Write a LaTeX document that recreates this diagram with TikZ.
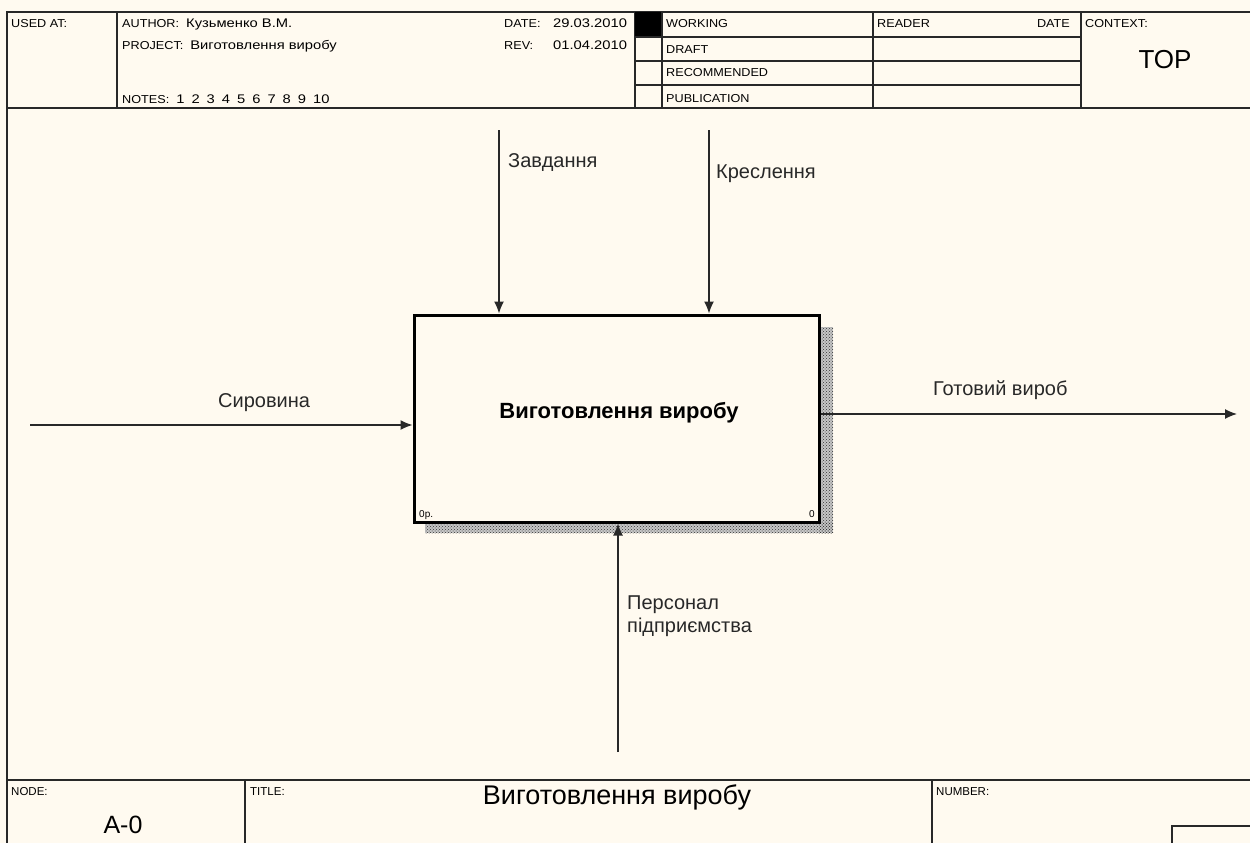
\documentclass[tikz,border=0pt]{standalone}
\usepackage{fontspec}
\setmainfont{Liberation Sans}
\newfontfamily\hdrfont{Liberation Sans}[FakeStretch=1.1]
\newfontfamily\valfont{Liberation Sans}[FakeStretch=1.18]
\newcommand\hdrval[1]{{\valfont\fontsize{12.5}{14}\selectfont #1}}
\usetikzlibrary{arrows.meta,patterns}
\definecolor{paper}{RGB}{255,250,240}
\definecolor{ink}{RGB}{40,40,40}
\tikzset{
  frameline/.style={draw=ink, line width=1.2pt},
  small/.style={inner sep=0pt, anchor=base west, font=\hdrfont\fontsize{11.5}{13}\selectfont},
  plainsmall/.style={inner sep=0pt, anchor=base west, font=\fontsize{11.5}{13}\selectfont},
  label/.style={inner sep=0pt, anchor=base west, font=\fontsize{20}{23}\selectfont, text=ink, align=left},
  flow/.style={draw=ink, line width=1.3pt, -{Latex[length=12pt,width=10pt]}},
  funcbox/.style={draw=black, line width=3pt, fill=paper, minimum width=405pt, minimum height=207pt, inner sep=0pt},
  shadebase/.style={fill=gray!45, draw=none},
  shade/.style={pattern=crosshatch dots, pattern color=black!80, draw=none}
}
\begin{document}
\begin{tikzpicture}[x=1pt,y=-1pt]
\useasboundingbox (0,0) rectangle (1250,843);
\fill[paper] (0,0) rectangle (1250,843);

% ---- outer frame and header ----
\draw[frameline] (1252,12) -- (7,12) -- (7,845);
\draw[frameline] (7,108) -- (1252,108);
\draw[frameline] (117,12) -- (117,108);
\draw[frameline] (635,12) -- (635,108);
\fill[black] (635,12) rectangle (662,37);
\draw[frameline] (662,12) -- (662,108);
\draw[frameline] (873,12) -- (873,108);
\draw[frameline] (1081,12) -- (1081,108);
\foreach \yy in {37,61,85} \draw[frameline] (635,\yy) -- (1081,\yy);

\node[small] (usedat) at (11,28) {USED AT:};
\node[small] (author) at (122,28) {AUTHOR:\ \ \hdrval{Кузьменко В.М.}};
\node[small] (project) at (122,50) {PROJECT:\ \ \hdrval{Виготовлення виробу}};
\node[small] (notes) at (122,103) {NOTES:\ \ \hdrval{1\hspace{7pt}2\hspace{7pt}3\hspace{7pt}4\hspace{7pt}5\hspace{7pt}6\hspace{7pt}7\hspace{7pt}8\hspace{7pt}9\hspace{7pt}10}};
\node[small] (date) at (504,28) {DATE:};
\node[small] (datev) at (553,28) {\hdrval{29.03.2010}};
\node[small] (rev) at (504,50) {REV:};
\node[small] (revv) at (553,50) {\hdrval{01.04.2010}};
\node[small] (working) at (666,28) {WORKING};
\node[small] (draft) at (666,53) {DRAFT};
\node[small] (recommended) at (666,77) {RECOMMENDED};
\node[small] (publication) at (666,102) {PUBLICATION};
\node[small] (reader) at (877,28) {READER};
\node[small, anchor=base east] (rdate) at (1070,28) {DATE};
\node[small] (context) at (1085,28) {CONTEXT:};
\node[inner sep=0pt, anchor=base, font=\fontsize{26}{29}\selectfont] (top) at (1165,68) {TOP};

% ---- footer ----
\draw[frameline] (7,780) -- (1252,780);
\draw[frameline] (245,780) -- (245,845);
\draw[frameline] (932,780) -- (932,845);
\draw[frameline] (1252,826) -- (1172,826) -- (1172,845);
\node[plainsmall] (nodelbl) at (11,795) {NODE:};
\node[plainsmall] (titlelbl) at (250,795) {TITLE:};
\node[plainsmall] (numberlbl) at (936,795) {NUMBER:};
\node[inner sep=0pt, anchor=base, font=\fontsize{25}{28}\selectfont] (nodeid) at (123,833) {A-0};
\node[inner sep=0pt, anchor=base, font=\fontsize{27}{30}\selectfont] (title) at (617,804) {Виготовлення виробу};

% ---- activity box with its hatched shadow ----
\fill[shadebase] (819,327) rectangle (833,533);
\fill[shadebase] (425,522) rectangle (833,533);
\fill[shade] (819,327) rectangle (833,533);
\fill[shade] (425,522) rectangle (833,533);
\node[funcbox] (box) at (616.5,418.5) {};
\node[inner sep=0pt, anchor=base, font=\fontsize{22}{26}\selectfont\bfseries] (boxname) at (619,418) {Виготовлення виробу};
\node[inner sep=0pt, anchor=base west, font=\fontsize{10}{12}\selectfont] (boxref) at (419,517) {0р.};
\node[inner sep=0pt, anchor=base east, font=\fontsize{10}{12}\selectfont] (boxnum) at (815,517) {0};

% ---- arrows ----
\coordinate (inpt) at (30,425);
\coordinate (ctrla) at (499,130);
\coordinate (ctrlb) at (709,130);
\coordinate (outpt) at (1237,414);
\coordinate (mech) at (618,752);

\draw[flow] (inpt) -- (inpt -| box.west);
\draw[flow] (ctrla) -- (ctrla |- box.north);
\draw[flow] (ctrlb) -- (ctrlb |- box.north);
\draw[flow] (outpt -| box.east) -- (outpt);
\draw[flow] (mech) -- (mech |- box.south);

\node[label] (lin) at (218,407) {Сировина};
\node[label] (lca) at (508,167) {Завдання};
\node[label] (lcb) at (716,178) {Креслення};
\node[label] (lout) at (933,395) {Готовий вироб};
\node[label] (lmech) at (627,632) {Персонал\\підприємства};
\end{tikzpicture}
\end{document}
